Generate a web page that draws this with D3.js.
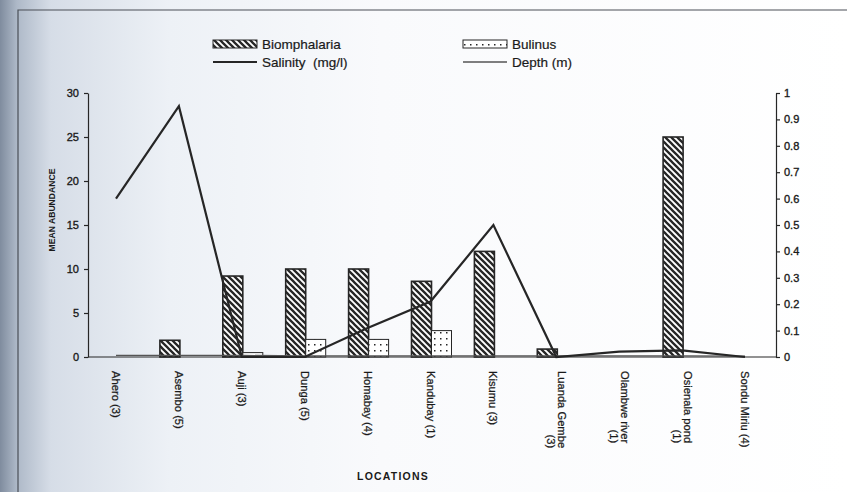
<!DOCTYPE html>
<html>
<head>
<meta charset="utf-8">
<script src="https://cdn.jsdelivr.net/npm/d3@7"></script>
<style>
  html, body { margin: 0; padding: 0; background: #fff; }
  svg { display: block; font-family: "Liberation Sans", Arial, sans-serif; }
</style>
</head>
<body>
<svg id="chart" width="847" height="492"></svg>
<script>
// location labels, as they wrap under the axis
const locationLines = [
    ["Ahero (3)"], ["Asembo (5)"], ["Auji (3)"], ["Dunga (5)"], ["Homabay (4)"],
    ["Kandubay (1)"], ["Kisumu (3)"], ["Luanda Gembe", "(3)"], ["Olambwe river", "(1)"],
    ["Osienala pond", "(1)"], ["Sondu Miriu (4)"]
];
const locations = locationLines.map(l => l.join(" "));

// mean abundance (left axis)
const biomphalaria = [0, 1.9, 9.2, 10, 10, 8.6, 12, 0.9, 0, 25, 0];
const bulinus = [0, 0, 0.5, 2, 2, 3, 0, 0, 0, 0, 0];

// right axis
const salinity = [0.6, 0.95, 0, 0, 0.11, 0.21, 0.5, 0, 0.02, 0.025, 0];
const depth = [0.006, 0.006, 0.006, 0.004, 0.004, 0.004, 0.004, 0.004, 0.004, 0.004, 0.003];

const leftTicks = [0, 5, 10, 15, 20, 25, 30];
const rightTicks = [0, 0.1, 0.2, 0.3, 0.4, 0.5, 0.6, 0.7, 0.8, 0.9, 1];

const svg = d3.select("#chart");
const ink = "#262626";
const textInk = "#1a1a1a";

// scanned-page tint on the left edge
const defs = svg.append("defs");
const grad = defs.append("linearGradient").attr("id", "pageTint");
grad.append("stop").attr("offset", "0").attr("stop-color", "#7f8c9e");
grad.append("stop").attr("offset", "0.02").attr("stop-color", "#aeb9c8");
grad.append("stop").attr("offset", "0.06").attr("stop-color", "#d6dde7");
grad.append("stop").attr("offset", "0.2").attr("stop-color", "#edf1f6");
grad.append("stop").attr("offset", "0.45").attr("stop-color", "#f9fafc");
grad.append("stop").attr("offset", "1").attr("stop-color", "#ffffff");
svg.append("rect").attr("width", 847).attr("height", 492).attr("fill", "url(#pageTint)");

// chart frame (top and left edges are inside the picture)
svg.append("path")
    .attr("d", "M18,492 L18,10 L847,10")
    .attr("fill", "none")
    .attr("stroke", "#4a4f57")
    .attr("stroke-width", 1.2);

// hatch for Biomphalaria
const hatch = defs.append("pattern").attr("id", "hatch")
    .attr("patternUnits", "userSpaceOnUse").attr("width", 6).attr("height", 6);
hatch.append("rect").attr("width", 6).attr("height", 6).attr("fill", "#fff");
hatch.append("path").attr("d", "M-1,-1 L7,7 M-4,2 L2,8 M4,-2 L10,4")
    .attr("stroke", ink).attr("stroke-width", 2.3);

// dots for Bulinus
const dots = defs.append("pattern").attr("id", "dots")
    .attr("patternUnits", "userSpaceOnUse").attr("width", 6).attr("height", 6);
dots.append("rect").attr("width", 6).attr("height", 6).attr("fill", "#fff");
dots.append("rect").attr("x", 2).attr("y", 2).attr("width", 1.5).attr("height", 1.5).attr("fill", ink);

const plotLeft = 88, plotRight = 776;

const xScale = d3.scalePoint().domain(locations).range([116, 745]);
const barScale = d3.scaleBand().domain(["bio", "bul"]).range([-19, 21]);
const yLeft = d3.scaleLinear().domain([0, 30]).range([357, 93]);
const yRight = d3.scaleLinear().domain([0, 1]).range([357, 93]);

// Left axis
const leftAxis = svg.append("g")
    .attr("transform", `translate(${plotLeft},0)`)
    .call(d3.axisLeft(yLeft).tickValues(leftTicks).tickSize(4).tickPadding(5).tickSizeOuter(0));
// Right axis
const rightAxis = svg.append("g")
    .attr("transform", `translate(${plotRight},0)`)
    .call(d3.axisRight(yRight).tickValues(rightTicks).tickSize(4).tickPadding(4).tickSizeOuter(0)
        .tickFormat(d => String(d)));

[leftAxis, rightAxis].forEach(ax => {
    ax.select(".domain").attr("stroke", ink).attr("stroke-width", 1.2);
    ax.selectAll(".tick line").attr("stroke", ink).attr("stroke-width", 1.2);
    ax.selectAll(".tick text")
        .attr("font-family", "Liberation Sans, Arial, sans-serif")
        .attr("font-size", 11)
        .attr("fill", textInk)
        .attr("stroke", textInk)
        .attr("stroke-width", 0.35);
});

// bars
const barData = [];
locations.forEach((loc, i) => {
    barData.push({ loc: loc, key: "bio", v: biomphalaria[i] });
    barData.push({ loc: loc, key: "bul", v: bulinus[i] });
});
svg.append("g")
    .selectAll("rect")
    .data(barData.filter(d => d.v > 0))
    .enter()
    .append("rect")
    .attr("x", d => xScale(d.loc) + barScale(d.key))
    .attr("y", d => yLeft(d.v))
    .attr("width", barScale.bandwidth())
    .attr("height", d => yLeft(0) - yLeft(d.v))
    .attr("fill", d => d.key === "bio" ? "url(#hatch)" : "url(#dots)")
    .attr("stroke", ink)
    .attr("stroke-width", d => d.key === "bio" ? 1.6 : 1);

// X axis line
svg.append("line")
    .attr("x1", plotLeft).attr("x2", plotRight)
    .attr("y1", yLeft(0)).attr("y2", yLeft(0))
    .attr("stroke", ink).attr("stroke-width", 1.2);

// lines
const line = d3.line()
    .x((d, i) => xScale(locations[i]))
    .y(d => yRight(d));

svg.append("path")
    .datum(depth)
    .attr("d", line)
    .attr("fill", "none")
    .attr("stroke", "#555")
    .attr("stroke-width", 1.3);

svg.append("path")
    .datum(salinity)
    .attr("d", line)
    .attr("fill", "none")
    .attr("stroke", ink)
    .attr("stroke-width", 2.2)
    .attr("stroke-linejoin", "miter");

// x labels, rotated to read downwards
const labelTop = 371;
const labels = svg.append("g")
    .selectAll("g")
    .data(locationLines)
    .enter()
    .append("g")
    .attr("transform", (d, i) => `translate(${xScale(locations[i])},${labelTop}) rotate(90)`);

labels.each(function(lines) {
    const g = d3.select(this);
    const texts = lines.map(t => g.append("text")
        .attr("font-family", "Liberation Sans Narrow, Arial Narrow, Liberation Sans, sans-serif")
        .attr("font-size", 11.2)
        .attr("fill", textInk)
        .attr("stroke", textInk)
        .attr("stroke-width", 0.25)
        .attr("dy", "0.35em")
        .text(t));
    const widths = texts.map(t => t.node().getComputedTextLength());
    const maxW = d3.max(widths);
    const n = lines.length;
    texts.forEach((t, j) => {
        t.attr("x", n > 1 ? maxW : 0)
         .attr("y", (j - (n - 1) / 2) * 11)
         .attr("text-anchor", n > 1 ? "end" : "start");
    });
});

// axis titles
svg.append("text")
    .attr("transform", "translate(55,210) rotate(-90)")
    .attr("text-anchor", "middle")
    .attr("font-size", 8.6)
    .attr("font-weight", "bold")
    .attr("fill", textInk)
    .text("MEAN ABUNDANCE");

svg.append("text")
    .attr("x", 393)
    .attr("y", 480)
    .attr("text-anchor", "middle")
    .attr("font-size", 10.5)
    .attr("font-weight", "bold")
    .attr("letter-spacing", 1.2)
    .attr("fill", textInk)
    .text("LOCATIONS");

// legend
const legend = svg.append("g");
const legendItems = [
    { label: "Biomphalaria", x: 213, y: 44, type: "bio" },
    { label: "Bulinus", x: 463, y: 44, type: "bul" },
    { label: "Salinity  (mg/l)", x: 213, y: 62, type: "sal" },
    { label: "Depth (m)", x: 463, y: 62, type: "dep" }
];
legendItems.forEach(it => {
    if (it.type === "bio" || it.type === "bul") {
        legend.append("rect")
            .attr("x", it.x).attr("y", it.y - 4)
            .attr("width", 44).attr("height", 8)
            .attr("fill", it.type === "bio" ? "url(#hatch)" : "url(#dots)")
            .attr("stroke", ink).attr("stroke-width", 1);
    } else {
        legend.append("line")
            .attr("x1", it.x).attr("x2", it.x + 44)
            .attr("y1", it.y).attr("y2", it.y)
            .attr("stroke", it.type === "sal" ? ink : "#555")
            .attr("stroke-width", it.type === "sal" ? 1.8 : 1.3);
    }
    legend.append("text")
        .attr("x", it.x + 49).attr("y", it.y)
        .attr("dy", "0.35em")
        .attr("font-size", 13.5)
        .attr("fill", textInk)
        .attr("stroke", textInk)
        .attr("stroke-width", 0.2)
        .style("white-space", "pre")
        .text(it.label);
});
</script>
</body>
</html>
